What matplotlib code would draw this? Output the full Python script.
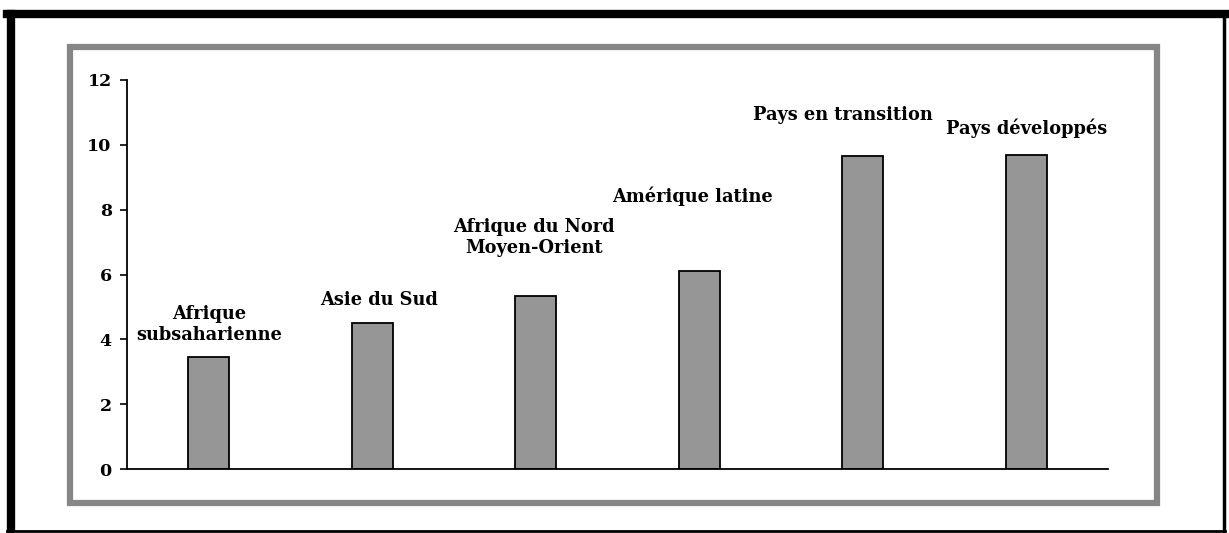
import matplotlib
matplotlib.use('Agg')
import matplotlib.pyplot as plt
from matplotlib.patches import Rectangle
from matplotlib.lines import Line2D

regions = ['Afrique\nsubsaharienne', 'Asie du Sud', 'Afrique du Nord\nMoyen-Orient',
           'Amérique latine', 'Pays en transition', 'Pays développés']
values = [3.45, 4.5, 5.35, 6.1, 9.65, 9.7]
yticks = [0, 2, 4, 6, 8, 10, 12]

# where the labels sit (x offset from bar, baseline in data units)
label_dx = [0.0, 0.04, -0.01, -0.04, -0.12, 0.0]
label_y = [3.85, 4.95, 6.55, 8.1, 10.65, 10.2]

W, H = 1229, 533
fig = plt.figure(figsize=(W/100, H/100), dpi=100)
fig.patch.set_facecolor('white')

# outer black frame
def fx(p): return p / W
def fy(p): return 1 - p / H
fig.add_artist(Line2D([fx(11), fx(11)], [fy(14), fy(532)], color='black', lw=6))
fig.add_artist(Line2D([fx(7), fx(1225)], [fy(14), fy(14)], color='black', lw=6))
fig.add_artist(Line2D([fx(1223.5), fx(1223.5)], [fy(14), fy(532)], color='black', lw=2.5))
fig.add_artist(Line2D([fx(7), fx(1225)], [fy(531), fy(531)], color='black', lw=2))

# gray inner frame
fig.add_artist(Rectangle((fx(70), fy(503)), fx(1157) - fx(70), fy(47) - fy(503),
                         transform=fig.transFigure, fill=False, edgecolor='#868686', lw=4.5))

ax = fig.add_axes([127/W, 1 - 469/H, (1108 - 127)/W, (469 - 80)/H])
x = list(range(len(regions)))
ax.bar(x, values, width=0.25, color='#969696', edgecolor='black', linewidth=1.3)
ax.set_xlim(-0.5, len(regions) - 0.5)
ax.set_ylim(0, 12)
ax.set_yticks(yticks)
ax.set_xticks([])
for s in ['top', 'right']:
    ax.spines[s].set_visible(False)
for s in ['left', 'bottom']:
    ax.spines[s].set_linewidth(1.3)
ax.tick_params(axis='y', direction='out', length=5, width=1.2, pad=6)
for lab in ax.get_yticklabels():
    lab.set_fontfamily('DejaVu Serif')
    lab.set_fontweight('bold')
    lab.set_fontsize(12.5)

for i, name in enumerate(regions):
    ax.text(i + label_dx[i], label_y[i], name, ha='center', va='bottom',
            family='DejaVu Serif', fontweight='bold', fontsize=12.8, linespacing=1.2)

fig.savefig('out.png', dpi=100)
